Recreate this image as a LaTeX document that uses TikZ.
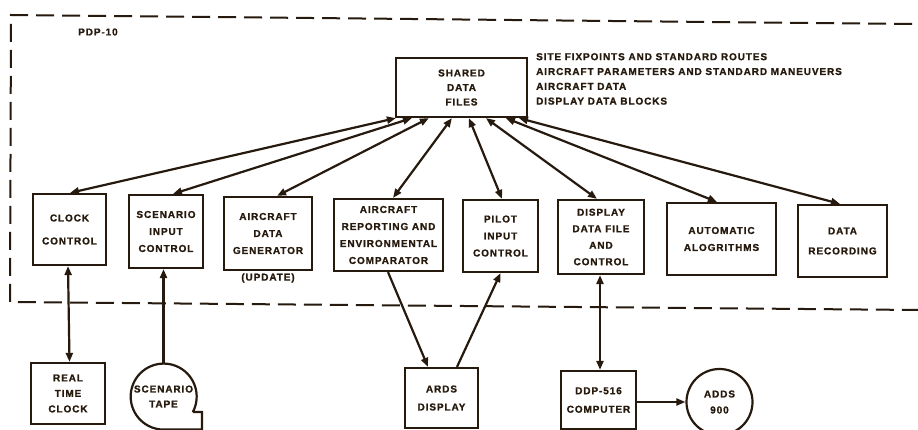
\documentclass[tikz,border=0pt]{standalone}
\usepackage{fontspec}
\setmainfont{Liberation Sans}
\newfontfamily\lblfont[LetterSpace=9,FakeBold=1.2]{Liberation Sans Bold}
\usetikzlibrary{arrows.meta,calc}
\colorlet{inkc}{black!80!brown}
\begin{document}
\begin{tikzpicture}[x=1pt,y=-1pt,
  ink/.style={draw=inkc, line width=2.2pt},
  box/.style={ink, rectangle, align=center, inner sep=0pt, font=\lblfont\fontsize{10}{17}\selectfont, text=inkc},
  lbl/.style={inner sep=0pt, font=\lblfont\fontsize{10}{17}\selectfont, text=inkc},
  conn/.style={ink, -{Triangle[length=9pt,width=7pt]}},
  dconn/.style={ink, {Triangle[length=9pt,width=7pt]}-{Triangle[length=9pt,width=7pt]}},
  pdp/.style={ink, line width=2pt, dash pattern=on 18pt off 8pt}
]
\useasboundingbox (0,0) rectangle (918,430);
% PDP-10 boundary
\coordinate (tr) at (912,24);
\coordinate (tl) at (11,15);
\coordinate (bl) at (10,302);
\coordinate (br) at (918,310);
\draw[pdp] (tr) -- (tl) -- (bl) -- (br);
\node[lbl, anchor=west] (pdplbl) at (78,32) {PDP-10};

% shared data files
\node[box, minimum width=131pt, minimum height=59pt, font=\lblfont\fontsize{10}{14.5}\selectfont] (sdf) at (461.5,87.5) {SHARED\\DATA\\FILES};
\node[lbl, anchor=north west, align=left, font=\lblfont\fontsize{10}{14.8}\selectfont] (list) at (536,53)
  {SITE FIXPOINTS AND STANDARD ROUTES\\AIRCRAFT PARAMETERS AND STANDARD MANEUVERS\\AIRCRAFT DATA\\DISPLAY DATA BLOCKS};

% top row
\node[box, minimum width=73pt, minimum height=71pt] (clk) at (69.5,229.5) {CLOCK\\[6pt]CONTROL};
\node[box, minimum width=74pt, minimum height=73pt] (sic) at (166,231.5) {SCENARIO\\INPUT\\CONTROL};
\node[box, minimum width=88pt, minimum height=73pt] (adg) at (268,233.5) {AIRCRAFT\\DATA\\GENERATOR};
\node[lbl] (upd) at (268,278) {(UPDATE)};
\node[box, minimum width=109pt, minimum height=72pt] (arec) at (388.5,235) {AIRCRAFT\\REPORTING AND\\ENVIRONMENTAL\\COMPARATOR};
\node[box, minimum width=75pt, minimum height=72pt] (pic) at (500.5,236) {PILOT\\INPUT\\CONTROL};
\node[box, minimum width=86pt, minimum height=74pt, font=\lblfont\fontsize{10}{16.5}\selectfont] (ddfc) at (601,237) {DISPLAY\\DATA FILE\\AND\\CONTROL};
\node[box, minimum width=109pt, minimum height=72pt] (aa) at (721.5,239) {AUTOMATIC\\ALOGRITHMS};
\node[box, minimum width=89pt, minimum height=72pt] (dr) at (842.5,241) {DATA\\[3pt]RECORDING};

% bottom row
\node[box, minimum width=74pt, minimum height=61pt, font=\lblfont\fontsize{10}{15.5}\selectfont] (rtc) at (68,393.5) {REAL\\TIME\\CLOCK};
\node[box, minimum width=73pt, minimum height=60pt, font=\lblfont\fontsize{10}{18}\selectfont] (ards) at (441.5,398) {ARDS\\DISPLAY};
\node[box, minimum width=75pt, minimum height=58pt, font=\lblfont\fontsize{10}{18.5}\selectfont] (ddp) at (598.5,400) {DDP-516\\COMPUTER};
\node[box, circle, minimum size=66pt, font=\lblfont\fontsize{10}{16}\selectfont] (adds) at (719.5,402) {ADDS\\900};
% scenario tape
\node[lbl, align=center, minimum size=66pt, circle, font=\lblfont\fontsize{10}{15}\selectfont] (tape) at (163.5,396.5) {SCENARIO\\TAPE};
\draw[ink] (tape.-28) arc[start angle=-28, end angle=270, radius=33pt] -- (202,429.5) -- (202,412) -- (tape.-28);

% connectors from shared data files
\draw[dconn] ([xshift=1pt]sdf.south west) -- ([xshift=0.5pt]clk.north);
\draw[dconn] ([xshift=17pt]sdf.south west) -- ([xshift=7pt]sic.north);
\draw[dconn] ([xshift=34pt]sdf.south west) -- ([xshift=9pt]adg.north);
\draw[dconn] ([xshift=57pt]sdf.south west) -- ([xshift=4.5pt]arec.north);
\draw[dconn] ([xshift=74pt]sdf.south west) -- ([xshift=1.5pt]pic.north);
\draw[dconn] ([xshift=91pt]sdf.south west) -- ([xshift=-4pt]ddfc.north);
\draw[dconn] ([xshift=111pt]sdf.south west) -- ([xshift=-4.5pt]aa.north);
\draw[dconn] ([xshift=124pt]sdf.south west) -- ([xshift=-2.5pt]dr.north);

% other connectors
\draw[dconn] ([xshift=-1.5pt]clk.south) -- (clk.south |- rtc.north);
\draw[conn] (tape.north) -- (tape.north |- sic.south);
\draw[conn] ([xshift=-0.5pt]arec.south) -- ([xshift=-13.5pt]ards.north);
\draw[conn] ([xshift=15.5pt]ards.north) -- (pic.south);
\draw[dconn] ([xshift=-1pt]ddfc.south) -- ([xshift=1.5pt]ddp.north);
\draw[conn] (ddp.east |- adds.west) -- (adds.west);
\end{tikzpicture}
\end{document}
